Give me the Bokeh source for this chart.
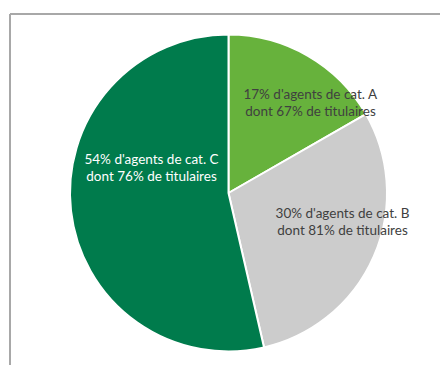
import math
from bokeh.plotting import figure
from bokeh.models import Range1d, ColumnDataSource
from bokeh.core.properties import value
from bokeh.embed import file_html
from bokeh.resources import INLINE

# --- data ---
categories = ["A", "B", "C"]
shares = [16.7, 29.7, 53.6]          # share of agents (%) as drawn
share_labels = [17, 30, 54]          # rounded shares shown in labels
titulaires = [67, 81, 76]            # % of titulaires per category

# --- styling / layout ---
colors = ["#67B23C", "#CCCCCC", "#007B4C"]
text_colors = ["#404040", "#404040", "#FFFFFF"]
W, H = 440, 365
cx, cy, R = 228, 172.5, 158.5
label_offsets = [(82, 90.5), (114, -28.5), (-77, 25.5)]
line_gap = 8.3

p = figure(width=W, height=H, output_backend="svg", toolbar_location=None,
           x_range=Range1d(0, W), y_range=Range1d(0, H), min_border=0)
p.axis.visible = False
p.grid.visible = False
p.outline_line_color = None
p.background_fill_color = "white"
p.border_fill_color = "white"

# frame border (top and left edges of the chart area)
p.line([9.5, W], [351.5, 351.5], line_color="#A8A8A8", line_width=2)
p.line([9.5, 9.5], [0, 351.5], line_color="#A8A8A8", line_width=2)

total = sum(shares)
starts, ends = [], []
ang = math.pi / 2
for s in shares:
    a2 = ang - 2 * math.pi * s / total
    starts.append(ang)
    ends.append(a2)
    ang = a2

src = ColumnDataSource(dict(start=starts, end=ends, color=colors))
p.wedge(x=cx, y=cy, radius=R, start_angle="start", end_angle="end",
        direction="clock", fill_color="color", line_color="white",
        line_width=2, source=src)

xs, ys, texts, tcols = [], [], [], []
for cat, sl, t, (dx, dy), tc in zip(categories, share_labels, titulaires, label_offsets, text_colors):
    xs += [cx + dx, cx + dx]
    ys += [cy + dy + line_gap, cy + dy - line_gap]
    texts += [f"{sl}% d'agents de cat. {cat}", f"dont {t}% de titulaires"]
    tcols += [tc, tc]

p.text(x=xs, y=ys, text=texts, text_color=tcols, text_align="center",
       text_baseline="middle", text_font=value("Lato"), text_font_size="13.5px")

open("out.html", "w").write(file_html(p, INLINE))
